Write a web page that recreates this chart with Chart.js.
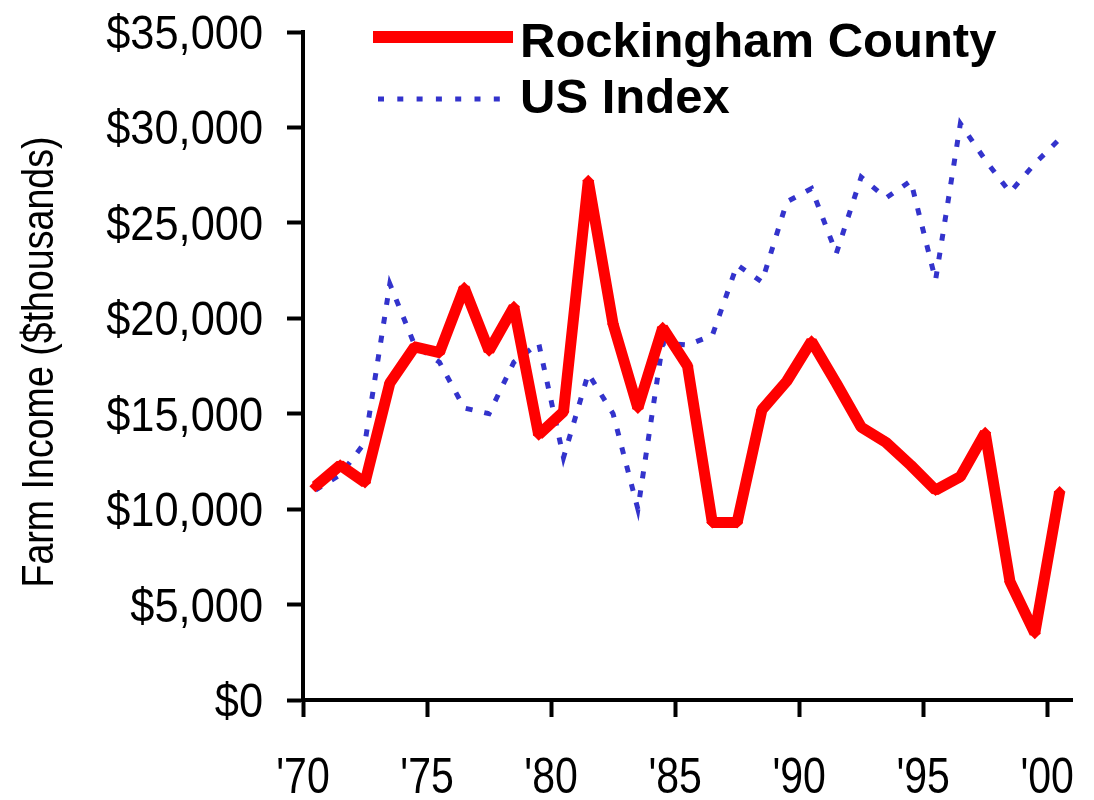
<!DOCTYPE html>
<html>
<head>
<meta charset="utf-8">
<script src="https://cdn.jsdelivr.net/npm/chart.js@4.4.0/dist/chart.umd.min.js"></script>
<style>
  html, body { margin: 0; padding: 0; background: #fff; }
  #wrap { width: 1094px; height: 800px; }
</style>
</head>
<body>
<div id="wrap"><canvas id="farmChart" width="1094" height="800"></canvas></div>
<script>
// Años (eje X) y series en miles de dólares
const years = [1970, 1971, 1972, 1973, 1974, 1975, 1976, 1977, 1978, 1979,
               1980, 1981, 1982, 1983, 1984, 1985, 1986, 1987, 1988, 1989,
               1990, 1991, 1992, 1993, 1994, 1995, 1996, 1997, 1998, 1999, 2000]

const rockingham = [11200, 12300, 11400, 16600, 18500, 18200, 21600, 18300, 20600, 13900,
                    15100, 27200, 19700, 15300, 19500, 17500, 9300, 9300, 15200, 16700,
                    18800, 16600, 14300, 13500, 12300, 11000, 11700, 14000, 6200, 3500, 10900]

const usIndex = [11000, 11800, 13500, 21800, 18600, 17700, 15300, 15000, 17700, 18700,
                 12700, 17100, 15000, 10000, 18700, 18600, 19100, 22800, 21900, 26100,
                 26800, 23400, 27400, 26300, 27200, 22000, 30200, 28300, 26600, 28100, 29400]

const xTickYears = [1970, 1975, 1980, 1985, 1990, 1995, 2000]
const xTickLabels = ["'70", "'75", "'80", "'85", "'90", "'95", "'00"]
const yTicks = [0, 5000, 10000, 15000, 20000, 25000, 30000, 35000]
const yTickLabels = ['$0', '$5,000', '$10,000', '$15,000', '$20,000', '$25,000', '$30,000', '$35,000']

const seriesLabels = ['Rockingham County', 'US Index']
const yTitle = 'Farm Income ($thousands)'

const sans = '"Liberation Sans", Arial, sans-serif'

const toPoints = values => years.map((year, i) => ({ x: year, y: values[i] }))

// Texto estrechado horizontalmente (imita una fuente condensada)
const drawNarrow = (ctx, text, x, y, opts) => {
    ctx.save()
    ctx.translate(x, y)
    if (opts.rotate) ctx.rotate(opts.rotate)
    ctx.scale(opts.scaleX, 1)
    ctx.font = (opts.bold ? 'bold ' : '') + opts.size + 'px ' + sans
    ctx.fillStyle = '#000'
    ctx.textAlign = opts.align
    ctx.textBaseline = 'alphabetic'
    ctx.fillText(text, 0, opts.dy || 0)
    ctx.restore()
}

// Etiquetas de ejes, título y leyenda
const labelsPlugin = {
    id: 'labelsPlugin',
    afterDraw(chart) {
        const ctx = chart.ctx
        const xs = chart.scales.x
        const ys = chart.scales.y
        const area = chart.chartArea

        xTickYears.forEach((year, i) => {
            drawNarrow(ctx, xTickLabels[i], xs.getPixelForValue(year - 0.5), 793,
                { size: 50, scaleX: 0.82, align: 'center' })
        })
        yTicks.forEach((v, i) => {
            drawNarrow(ctx, yTickLabels[i], 263, ys.getPixelForValue(v) + 17,
                { size: 49, scaleX: 0.885, align: 'right' })
        })
        drawNarrow(ctx, yTitle, 53, (area.top + area.bottom) / 2 - 4,
            { size: 45, scaleX: 0.835, align: 'center', rotate: -Math.PI / 2 })

        // Leyenda
        const sets = chart.data.datasets
        ctx.save()
        ctx.strokeStyle = sets[0].borderColor
        ctx.lineWidth = 12
        ctx.beginPath()
        ctx.moveTo(373, 37)
        ctx.lineTo(513, 37)
        ctx.stroke()
        ctx.strokeStyle = sets[1].borderColor
        ctx.lineWidth = 5
        ctx.setLineDash([6, 13.3])
        ctx.beginPath()
        ctx.moveTo(378, 99)
        ctx.lineTo(504, 99)
        ctx.stroke()
        ctx.restore()
        drawNarrow(ctx, sets[0].label, 520, 57, { size: 49, bold: true, scaleX: 1, align: 'left' })
        drawNarrow(ctx, sets[1].label, 520, 113, { size: 49, bold: true, scaleX: 1, align: 'left' })
    }
}

const ctx = document.getElementById('farmChart').getContext('2d')
new Chart(ctx, {
    type: 'line',
    data: {
        datasets: [
            {
                label: seriesLabels[0],
                data: toPoints(rockingham),
                borderColor: '#ff0000',
                backgroundColor: '#ff0000',
                borderWidth: 11,
                borderJoinStyle: 'bevel',
                pointStyle: 'rectRot',
                pointRadius: 6,
                pointBorderWidth: 0,
                tension: 0,
                order: 1
            },
            {
                label: seriesLabels[1],
                data: toPoints(usIndex),
                borderColor: '#3333cc',
                backgroundColor: '#3333cc',
                borderWidth: 5,
                borderDash: [7, 12],
                borderCapStyle: 'butt',
                pointRadius: 0,
                tension: 0,
                order: 2
            }
        ]
    },
    options: {
        responsive: false,
        animation: false,
        layout: { padding: { top: 32, right: 22, left: 0, bottom: 0 } },
        plugins: {
            legend: { display: false },
            tooltip: { enabled: false }
        },
        scales: {
            x: {
                type: 'linear',
                min: 1969.5,
                max: 2000.5,
                afterBuildTicks: scale => {
                    scale.ticks = xTickYears.map(y => ({ value: y - 0.5 }))
                },
                afterFit: scale => { scale.height = 100 },
                grid: {
                    drawOnChartArea: false,
                    drawTicks: true,
                    tickLength: 17,
                    tickWidth: 4,
                    tickColor: '#000'
                },
                border: { display: true, color: '#000', width: 4 },
                ticks: { display: false }
            },
            y: {
                min: 0,
                max: 35000,
                afterBuildTicks: scale => {
                    scale.ticks = yTicks.map(v => ({ value: v }))
                },
                afterFit: scale => { scale.width = 303 },
                grid: {
                    drawOnChartArea: false,
                    drawTicks: true,
                    tickLength: 16,
                    tickWidth: 4,
                    tickColor: '#000'
                },
                border: { display: true, color: '#000', width: 4 },
                ticks: { display: false },
                title: { display: false }
            }
        }
    },
    plugins: [labelsPlugin]
})
</script>
</body>
</html>
